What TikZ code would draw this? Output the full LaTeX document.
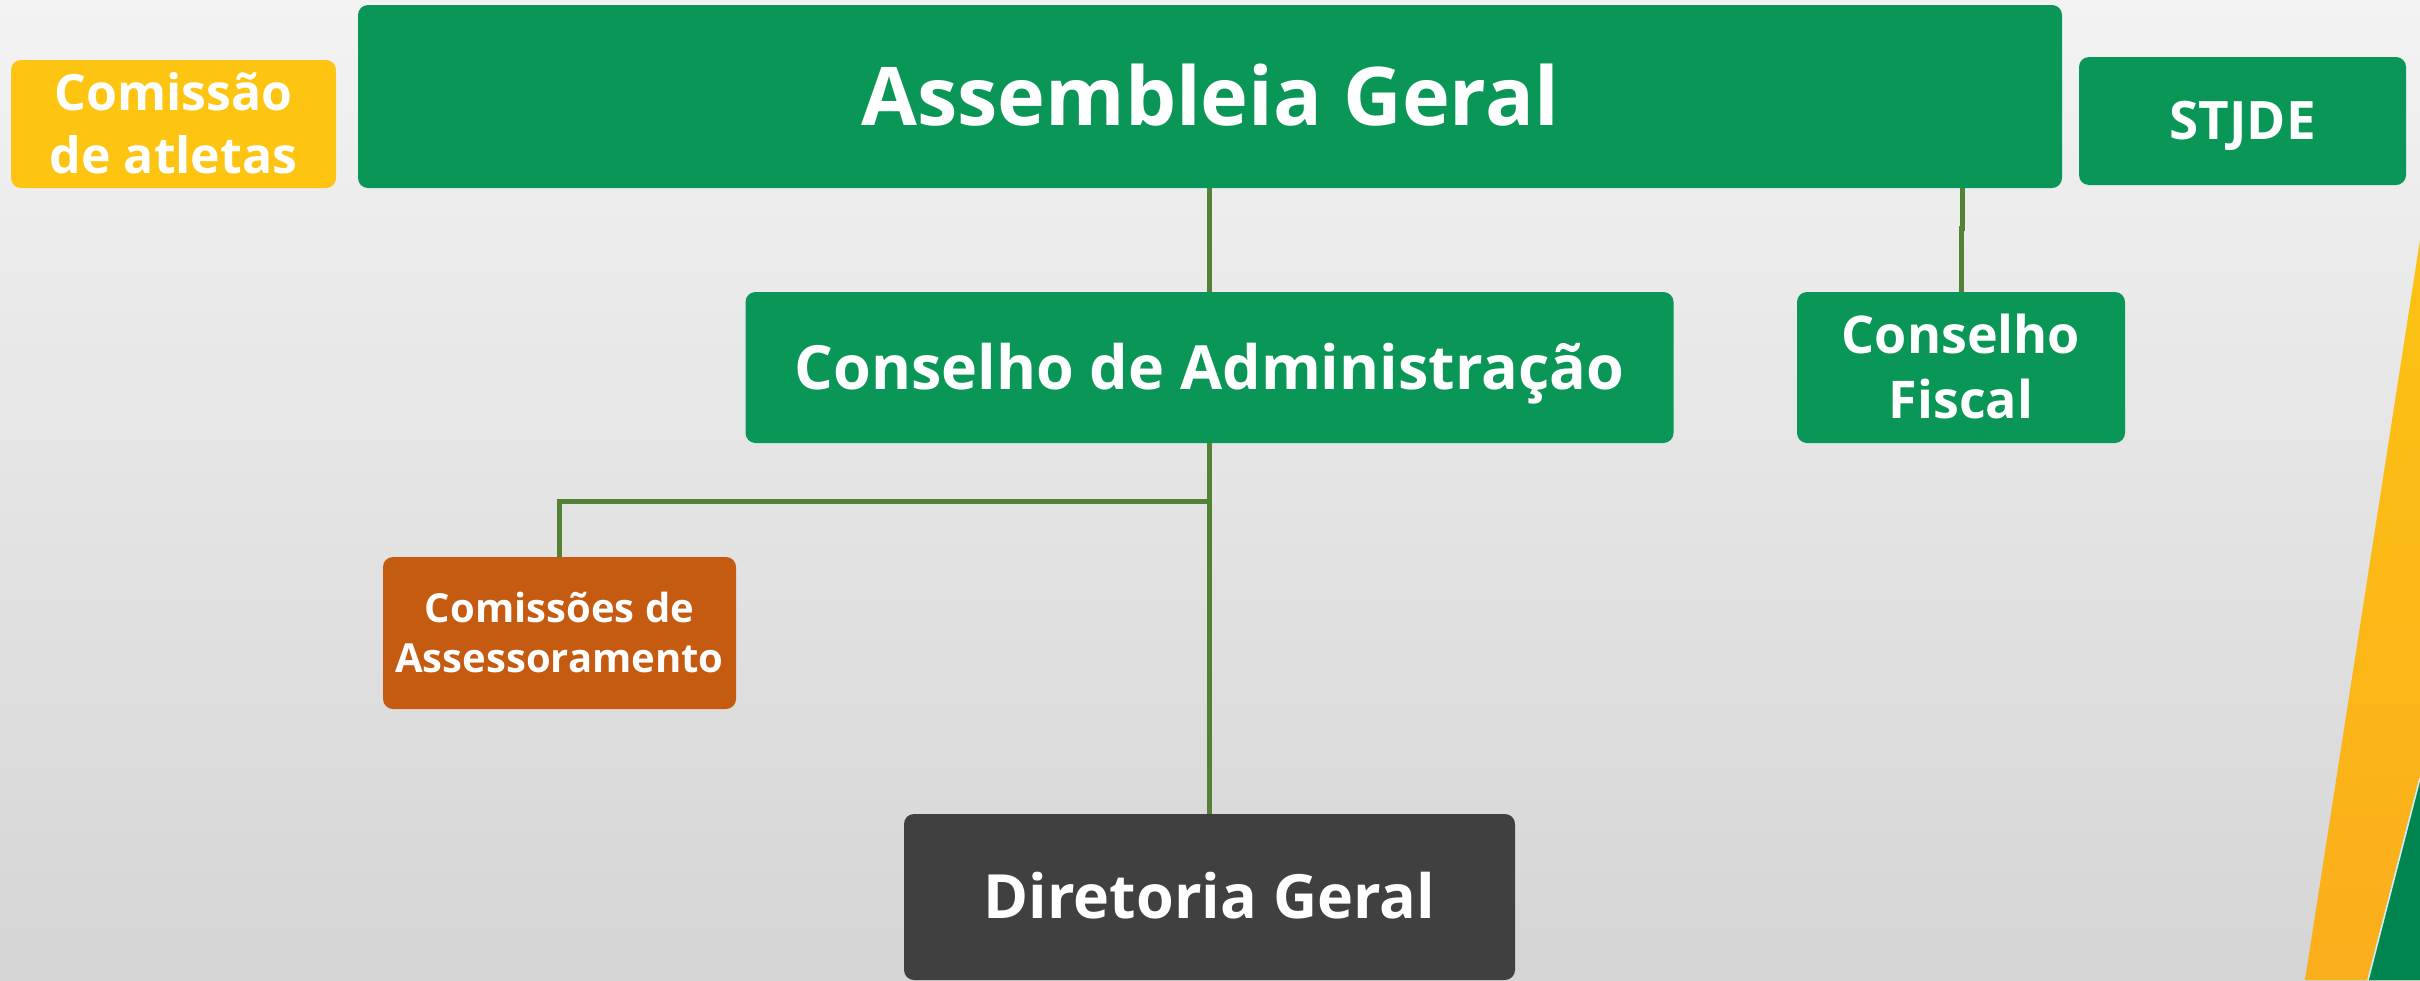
\documentclass[tikz,border=0pt]{standalone}
\usepackage{fontspec}
\setmainfont{Open Sans}
\definecolor{bgtop}{RGB}{243,243,243}
\definecolor{bgbottom}{RGB}{213,213,213}
\definecolor{boardgreen}{RGB}{10,150,86}
\definecolor{athleteyellow}{RGB}{253,196,18}
\definecolor{advisororange}{RGB}{197,90,17}
\definecolor{directorgrey}{RGB}{64,64,64}
\definecolor{linkgreen}{RGB}{84,130,53}
\definecolor{stripetop}{RGB}{252,194,18}
\definecolor{stripebottom}{RGB}{251,174,28}
\definecolor{flaggreen}{RGB}{0,132,80}
\begin{document}
\begin{tikzpicture}[x=0.5pt,y=-0.5pt]
        \tikzstyle{unit}=[rounded corners=5pt,inner sep=0pt,text=white,align=center,text depth=0pt]
        \tikzstyle{huge}=[unit,font=\fontsize{40.5}{48}\selectfont\bfseries,text height=28.9pt]
        \tikzstyle{large}=[unit,font=\fontsize{30.5}{37}\selectfont\bfseries,text height=21.8pt]
        \tikzstyle{medium}=[unit,font=\fontsize{26}{31.5}\selectfont\bfseries,text height=18.6pt]
        \tikzstyle{small}=[unit,font=\fontsize{20}{25}\selectfont\bfseries,text height=14.3pt]
        \tikzstyle{edge}=[draw=linkgreen,line width=2.5pt]
        % background and corner stripes
        \fill[top color=bgtop,bottom color=bgbottom] (0,0) rectangle (2420,980);
        \useasboundingbox (0,0) rectangle (2420,980);
        \shade[top color=stripetop,bottom color=stripebottom] (2420,240) -- (2305,980) -- (2420,980) -- cycle;
        \fill[flaggreen] (2420,778) -- (2368,980) -- (2420,980) -- cycle;
        \draw[white!80!cyan,line width=0.8pt] (2420,778) -- (2368,980);
       \begin{scope}
         \node [medium,fill=athleteyellow,minimum width=162.5pt,minimum height=64pt,font=\fontsize{25}{31.5}\selectfont\bfseries,text height=49.5pt] (atletas) at (173.5,124) {Comissão\\de atletas};
         \node [huge,fill=boardgreen,minimum width=852pt,minimum height=91.5pt] (assembleia) at (1210,96.5) {Assembleia Geral};
         \node [medium,fill=boardgreen,minimum width=163.5pt,minimum height=64pt,font=\fontsize{26.5}{32}\selectfont\bfseries,text height=18.9pt] (stjde) at (2242.5,121) {STJDE};
         \node [large,fill=boardgreen,minimum width=464pt,minimum height=75.5pt] (conselho) at (1209.5,367.5) {Conselho de Administração};
         \node [medium,fill=boardgreen,minimum width=164pt,minimum height=75.5pt,font=\fontsize{26}{32.5}\selectfont\bfseries,text height=51.1pt] (fiscal) at (1961,367.5) {Conselho\\Fiscal};
         \node [small,fill=advisororange,minimum width=176.5pt,minimum height=76pt,text height=39.3pt] (assess) at (559.5,633) {Comissões de\\Assessoramento};
         \node [large,fill=directorgrey,minimum width=305.5pt,minimum height=83pt] (diretoria) at (1209.5,897) {Diretoria Geral};
         \coordinate (fj) at (1962,228);
         \coordinate (fork) at (1210,501);
         \path[edge] (conselho.north) -- (conselho.north |- assembleia.south);
         \path[edge] (conselho.south) -- (diretoria.north);
         \path[edge] (fork) -| (assess.north);
         \path[edge] (fiscal.north) |- (fj) -- (fj |- assembleia.south);
        \end{scope}
      \end{tikzpicture}
\end{document}
